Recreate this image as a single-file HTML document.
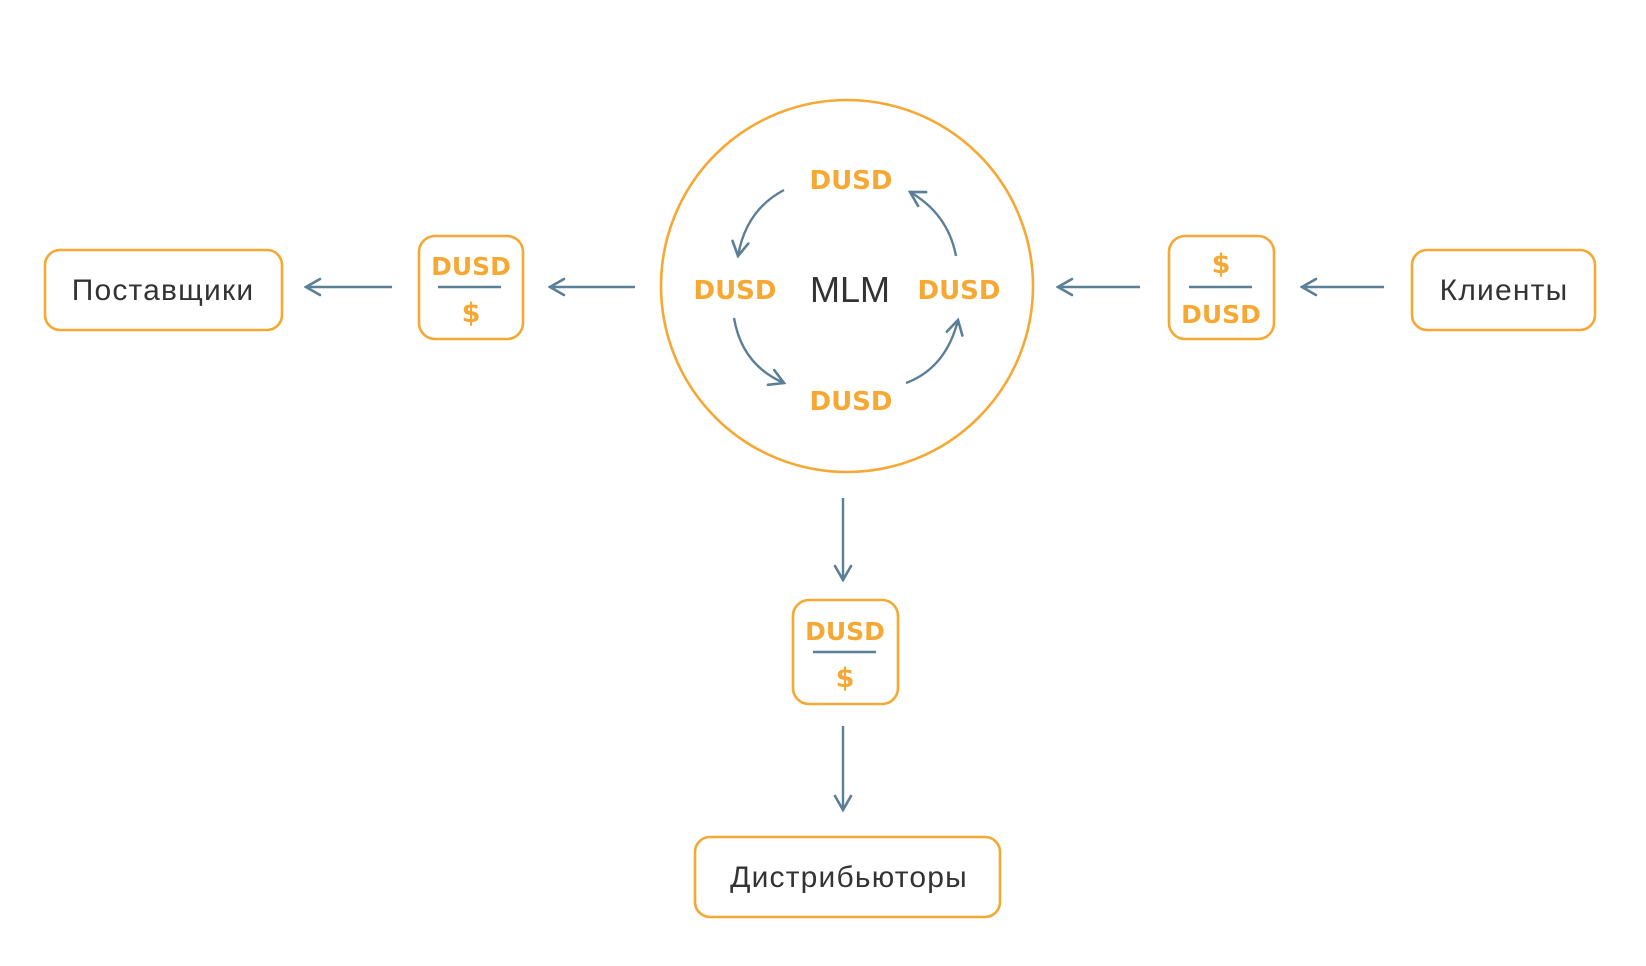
<!DOCTYPE html>
<html><head><meta charset="utf-8"><style>
html,body{margin:0;padding:0;background:#fff;}
svg{display:block;}
.b{font-family:"DejaVu Sans","Liberation Sans",sans-serif;font-weight:bold;fill:#F5A833;text-anchor:middle;}
.t{font-family:"Liberation Sans","DejaVu Sans",sans-serif;fill:#333;text-anchor:middle;letter-spacing:1.2px;}
</style></head><body>
<svg width="1646" height="966" viewBox="0 0 1646 966" xmlns="http://www.w3.org/2000/svg">
<defs>
<marker id="a" viewBox="0 0 20 20" refX="18" refY="10" markerWidth="20" markerHeight="20" markerUnits="userSpaceOnUse" orient="auto">
<path d="M4 2 L18 10 L4 18" fill="none" stroke="#5B7F96" stroke-width="2.6" stroke-linecap="round"/>
</marker>
</defs>
<g fill="none" stroke="#F5A833" stroke-width="2.6">
<circle cx="847" cy="286" r="186"/>
<rect x="45" y="250" width="237" height="80" rx="15"/>
<rect x="419" y="236" width="104" height="103" rx="16"/>
<rect x="1169" y="236" width="105" height="103" rx="16"/>
<rect x="1412" y="250" width="183" height="80" rx="15"/>
<rect x="793" y="600" width="105" height="104" rx="16"/>
<rect x="695" y="837" width="305" height="80" rx="15"/>
</g>
<g fill="none" stroke="#5B7F96" stroke-width="2.4" marker-end="url(#a)">
<line x1="392" y1="287" x2="306" y2="287"/>
<line x1="635" y1="287" x2="550" y2="287"/>
<line x1="1140" y1="287" x2="1058" y2="287"/>
<line x1="1384" y1="287" x2="1302" y2="287"/>
<line x1="843" y1="498" x2="843" y2="580"/>
<line x1="843" y1="726" x2="843" y2="810"/>
<path d="M784 190 Q746 210 738 256"/>
<path d="M956 256 Q948 214 910 192"/>
<path d="M734 318 Q742 365 784 383"/>
<path d="M906 383 Q946 368 958 320"/>
</g>
<g stroke="#5B7F96" stroke-width="2.4">
<line x1="438" y1="287" x2="501" y2="287"/>
<line x1="1189" y1="287" x2="1252" y2="287"/>
<line x1="813" y1="652" x2="876" y2="652"/>
</g>
<text class="b" x="851" y="189" font-size="26">DUSD</text>
<text class="b" x="735" y="299" font-size="26">DUSD</text>
<text class="b" x="959" y="299" font-size="26">DUSD</text>
<text class="b" x="851" y="410" font-size="26">DUSD</text>
<text class="t" x="850" y="302" font-size="36" style="letter-spacing:0">MLM</text>
<text class="b" x="471" y="275" font-size="25">DUSD</text>
<text class="b" x="471" y="322" font-size="27">$</text>
<text class="b" x="1221" y="273" font-size="27">$</text>
<text class="b" x="1221" y="323" font-size="25">DUSD</text>
<text class="b" x="845" y="640" font-size="25">DUSD</text>
<text class="b" x="845" y="687" font-size="27">$</text>
<text class="t" x="163" y="300" font-size="30">Поставщики</text>
<text class="t" x="1504" y="300" font-size="30">Клиенты</text>
<text class="t" x="849" y="887" font-size="30">Дистрибьюторы</text>
</svg>
</body></html>
